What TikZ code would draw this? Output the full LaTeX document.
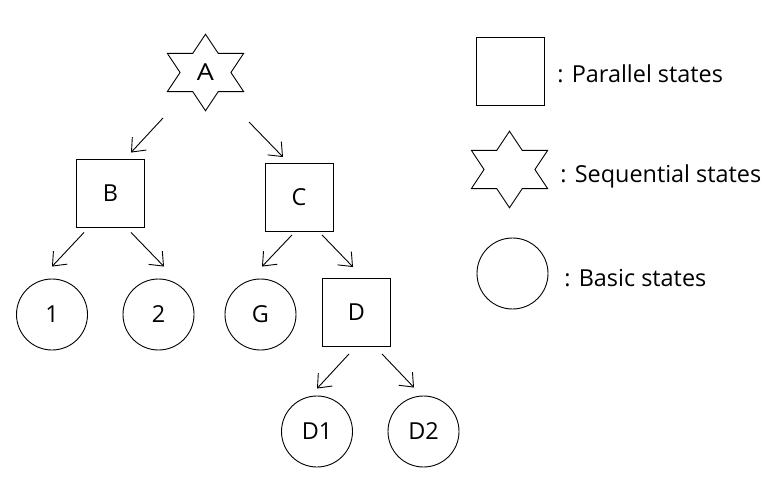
\documentclass[tikz,border=0pt]{standalone}
\usepackage{fontspec}
\setmainfont{Open Sans}
\usetikzlibrary{positioning,shapes,arrows.meta}

\begin{document}
\begin{tikzpicture}[x=1bp,y=-1bp,line width=0.9bp,
                    font=\fontsize{23.5}{28}\selectfont,
                    par node/.style={rectangle,draw,minimum size=68bp,inner sep=0pt},
                    seq node/.style={star,star points=6,star point ratio=1.732,draw,
                                     minimum size=76.6bp,inner sep=0pt,xscale=1.15,transform shape},
                    basic node/.style={circle,draw,minimum size=71bp,inner sep=0pt},
                    legend text/.style={anchor=base west,inner sep=0pt},
                    arr/.style={-{Straight Barb[length=11.5bp,width=19bp]}}
                   ]
  \useasboundingbox (0,0) rectangle (768,480);

  % tree
  \node[seq node] (A) at (205.5,72.5) {A};
  \node[par node] (B) at (110.5,193) {B};
  \node[par node] (C) at (299,197.5) {C};
  \node[basic node] (n1) at (52,314.5) {1};
  \node[basic node] (n2) at (158.5,314.5) {2};
  \node[basic node] (G) at (260.5,314.5) {G};
  \node[par node] (D) at (356.5,312.5) {D};
  \node[basic node] (D1) at (317,431.5) {D1};
  \node[basic node] (D2) at (423.5,431.5) {D2};

  % legend
  \node[par node] (legpar) at (510,71.5) {};
  \node[seq node] (legseq) at (509.5,169.5) {};
  \node[basic node] (legbas) at (512.5,273.5) {};
  \node[legend text] (txtpar) at (557,82.5) {: Parallel states};
  \node[legend text] (txtseq) at (560,183) {: Sequential states};
  \node[legend text] (txtbas) at (564,286.5) {: Basic states};

  \path%
      ([shift={(-42.5,45.5)}]A.center) edge [arr] ([shift={(20.5,-6)}]B.north)
      ([shift={(43.5,49.5)}]A.center) edge [arr] ([shift={(-16,-6)}]C.north)
      ([shift={(-26.5,5)}]B.south) edge [arr] ([shift={(0,-12)}]n1.north)
      ([shift={(20.5,5)}]B.south) edge [arr] ([shift={(5.5,-12)}]n2.north)
      ([shift={(-7,3)}]C.south) edge [arr] ([shift={(1.5,-12)}]G.north)
      ([shift={(23,3)}]C.south) edge [arr] ([shift={(-3.5,-11)}]D.north)
      ([shift={(-7.5,7)}]D.south) edge [arr] ([shift={(0,-7)}]D1.north)
      ([shift={(25.5,7)}]D.south) edge [arr] ([shift={(-9.5,-8)}]D2.north);
\end{tikzpicture}
\end{document}
